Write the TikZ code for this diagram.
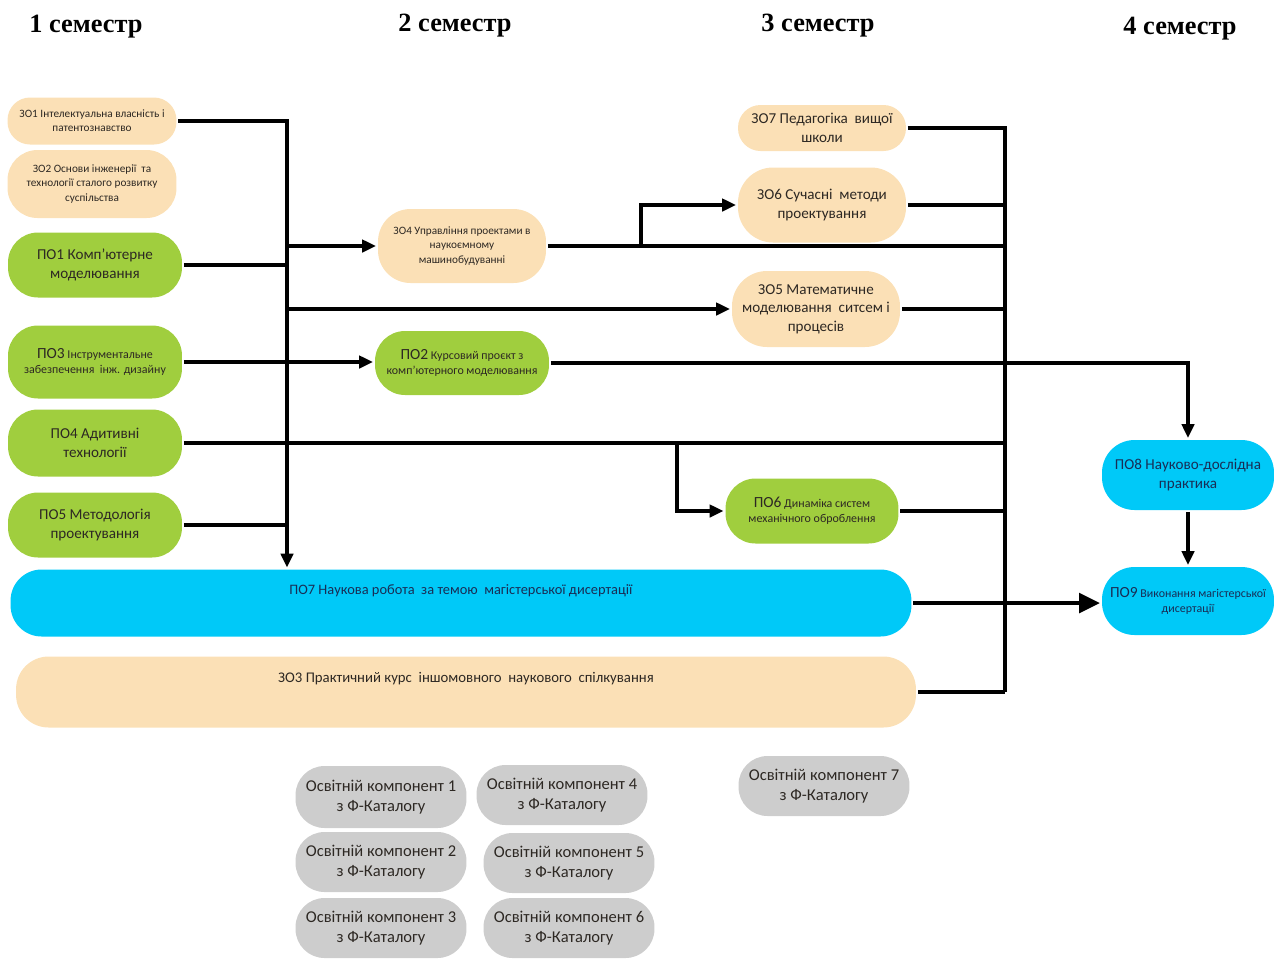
\documentclass[tikz,border=0pt]{standalone}
\usepackage{fontspec}
\setmainfont{Carlito}
\newfontfamily\headfont{Liberation Serif}
\usetikzlibrary{arrows.meta}

\definecolor{peach}{RGB}{251,224,182}
\definecolor{leaf}{RGB}{160,206,62}
\definecolor{sky}{RGB}{0,201,248}
\definecolor{cloud}{RGB}{205,205,205}
\definecolor{ink}{RGB}{45,40,35}
\definecolor{navy}{RGB}{25,45,85}

\newcommand{\bigtxt}[1]{{\fontsize{8.8}{10.5}\selectfont #1}}

\begin{document}
\begin{tikzpicture}[x=0.02cm, y=-0.02cm, line width=2.2pt,
    box/.style={rectangle, rounded corners=0.45cm, inner sep=1pt, align=center, text=ink, font=\fontsize{8.6}{10.6}\selectfont},
    zo/.style={box, fill=peach},
    po/.style={box, fill=leaf},
    nr/.style={box, fill=sky, text=navy},
    ok/.style={box, fill=cloud, minimum width=3.42cm, minimum height=1.2cm, rounded corners=0.58cm, font=\fontsize{9.4}{11.8}\selectfont},
    small/.style={font=\fontsize{6.4}{8}\selectfont},
    mixed/.style={font=\fontsize{6.8}{8.4}\selectfont},
    sem/.style={font=\headfont\bfseries\fontsize{15}{18}\selectfont},
    >={Triangle[length=8pt,width=7pt]}]
		\useasboundingbox (0,0) rectangle (1274,958);

		% semesters
		\node[sem] (sem1) at (86,27) {1 семестр};
		\node[sem] (sem2) at (455,26) {2 семестр};
		\node[sem] (sem3) at (818,26) {3 семестр};
		\node[sem] (sem4) at (1180,29) {4 семестр};

		% 1 semester
		\node[zo, small, minimum width=3.38cm, minimum height=0.94cm] (zo1) at (92,121) {ЗО1 Інтелектуальна власність і\\патентознавство};
		\node[zo, small, minimum width=3.38cm, minimum height=1.36cm, rounded corners=0.6cm] (zo2) at (92,184) {ЗО2 Основи інженерії~ та\\технології сталого розвитку\\суспільства};
		\node[po, minimum width=3.48cm, minimum height=1.3cm, rounded corners=0.6cm] (po1) at (95,265) {ПО1 Комп'ютерне\\моделювання};
		\node[po, mixed, minimum width=3.48cm, minimum height=1.46cm, rounded corners=0.6cm] (po3) at (95,362) {\bigtxt{ПО3} Інструментальне\\забезпечення~ інж. дизайну};
		\node[po, minimum width=3.48cm, minimum height=1.34cm, rounded corners=0.6cm] (po4) at (95,443) {ПО4 Адитивні\\технології};
		\node[po, minimum width=3.48cm, minimum height=1.3cm, rounded corners=0.6cm] (po5) at (95,525) {ПО5 Методологія\\проектування};

		% 2 semester
		\node[zo, small, minimum width=3.36cm, minimum height=1.48cm, rounded corners=0.65cm] (zo4) at (462,246) {ЗО4 Управління проектами в\\наукоємному\\машинобудуванні};
		\node[po, mixed, minimum width=3.48cm, minimum height=1.28cm, rounded corners=0.6cm] (po2) at (462,363) {\bigtxt{ПО2} Курсовий проєкт з\\комп'ютерного моделювання};

		% 3 semester
		\node[zo, minimum width=3.36cm, minimum height=0.92cm] (zo7) at (822,128) {ЗО7 Педагогіка~ вищої\\школи};
		\node[zo, minimum width=3.36cm, minimum height=1.5cm, rounded corners=0.7cm] (zo6) at (822,205) {ЗО6 Сучасні~ методи\\проектування};
		\node[zo, minimum width=3.36cm, minimum height=1.52cm, rounded corners=0.7cm] (zo5) at (816,309) {ЗО5 Математичне\\моделювання~ ситсем і\\процесів};
		\node[po, mixed, minimum width=3.46cm, minimum height=1.3cm, rounded corners=0.6cm] (po6) at (812,511) {\bigtxt{ПО6} Динаміка систем\\механічного оброблення};

		% whole year
		\node[nr, minimum width=18.02cm, minimum height=1.34cm, rounded corners=0.62cm, text height=0.36cm, text depth=0.69cm, font=\fontsize{8.2}{10}\selectfont] (po7) at (461,603) {ПО7 Наукова робота~ за темою~ магістерської дисертації};
		\node[zo, minimum width=18cm, minimum height=1.42cm, rounded corners=0.65cm, text height=0.36cm, text depth=0.74cm, font=\fontsize{8.4}{10}\selectfont] (zo3) at (466,692) {ЗО3 Практичний курс~ іншомовного~ наукового~ спілкування};

		% 4 semester
		\node[nr, minimum width=3.44cm, minimum height=1.4cm, rounded corners=0.65cm] (po8) at (1188,475) {ПО8 Науково-дослідна\\практика};
		\node[nr, mixed, minimum width=3.44cm, minimum height=1.36cm, rounded corners=0.65cm] (po9) at (1188,601) {\bigtxt{ПО9} Виконання магістерської\\дисертації};

		% catalogue
		\node[ok, minimum height=1.24cm] (ok1) at (381,797) {Освітній компонент 1\\з Ф-Каталогу};
		\node[ok] (ok2) at (381,862) {Освітній компонент 2\\з Ф-Каталогу};
		\node[ok] (ok3) at (381,928) {Освітній компонент 3\\з Ф-Каталогу};
		\node[ok] (ok4) at (562,795) {Освітній компонент 4\\з Ф-Каталогу};
		\node[ok] (ok5) at (569,863) {Освітній компонент 5\\з Ф-Каталогу};
		\node[ok] (ok6) at (569,928) {Освітній компонент 6\\з Ф-Каталогу};
		\node[ok] (ok7) at (824,786) {Освітній компонент 7\\з Ф-Каталогу};

		% buses
		\coordinate (lb) at (287,0);
		\coordinate (rb) at (1005,0);
		\coordinate (br4) at (641,246);
		\coordinate (br6) at (677,443);

		\draw[->] (zo1.east) -| (po7.north -| lb);
		\draw (po1.east) -- (po1.east -| lb);
		\draw (po5.east) -- (po5.east -| lb);
		\draw[->] (zo4.west -| lb) -- (zo4.west);
		\draw[->] (zo5.west -| lb) -- (zo5.west);
		\draw[->] (po3.east) -- (po3.east -| po2.west);
		\draw (po4.east) -- (po4.east -| rb);
		\draw[->] (br6) |- (po6.west);
		\draw (zo4.east) -- (zo4.east -| rb);
		\draw[->] (br4) |- (zo6.west);
		\draw[->] (po2.east) -| (po8.north);

		\draw (zo7.east) -| (zo3.east -| rb);
		\draw (zo6.east) -- (zo6.east -| rb);
		\draw (zo5.east) -- (zo5.east -| rb);
		\draw (po6.east) -- (po6.east -| rb);
		\draw (zo3.east) -- (zo3.east -| rb);
		\draw[-{Triangle[length=12pt,width=11pt]}, line width=2.6pt] (po7.east) -- (po7.east -| po9.west);
		\draw[->] (po8) -- (po9);

	\end{tikzpicture}
\end{document}
